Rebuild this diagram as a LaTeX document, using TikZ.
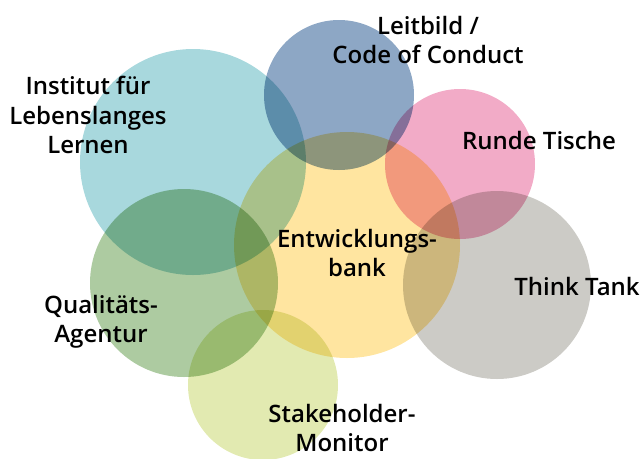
\documentclass[tikz,border=0pt]{standalone}
\usepackage{fontspec}
\setmainfont{Open Sans}[BoldFont={Open Sans Semibold}]
\definecolor{lebenblue}{HTML}{A8D8DD}
\definecolor{leitblue}{HTML}{8DA7C5}
\definecolor{rundepink}{HTML}{F2ABC7}
\definecolor{bankyellow}{HTML}{FFE5A0}
\definecolor{thinkgrey}{HTML}{CCCBC6}
\definecolor{agenturgreen}{HTML}{ADCBA1}
\definecolor{monitorgreen}{HTML}{E2EAB1}

\begin{document}
\begin{tikzpicture}[x=0.75pt, y=-0.75pt,
        bubble/.style={circle, inner sep=0pt, minimum size=#1*1.5pt}]
        \tikzstyle{label}=[align=center, font=\fontsize{18}{22}\selectfont\bfseries, inner sep=0pt]
        \useasboundingbox (0,0) rectangle (643,458);
        \begin{scope}[blend mode=multiply]
        \node [bubble=113, fill=lebenblue] (lernen) at (193,162) {};
        \node [bubble=75, fill=leitblue] (leitbild) at (339,95) {};
        \node [bubble=75, fill=rundepink] (runde) at (460,164) {};
        \node [bubble=113, fill=bankyellow] (bank) at (347,245) {};
        \node [bubble=94, fill=thinkgrey] (think) at (497,285) {};
        \node [bubble=94, fill=agenturgreen] (agentur) at (184,283) {};
        \node [bubble=75, fill=monitorgreen] (monitor) at (263,385) {};
        \end{scope}
        % Beschriftungen
        \node [label] (lernentxt) at (88,115) {Institut für\\Lebenslanges\\Lernen};
        \node [label] (leitbildtxt) at (428,40) {Leitbild /\\Code of Conduct};
        \node [label] (rundetxt) at (539,140) {Runde Tische};
        \node [label] (banktxt) at (357,253) {Entwicklungs-\\bank};
        \node [label] (thinktxt) at (577,286) {Think Tank};
        \node [label] (agenturtxt) at (101,322) {Qualitäts-\\Agentur};
        \node [label] (monitortxt) at (342,428) {Stakeholder-\\Monitor};
\end{tikzpicture}
\end{document}
